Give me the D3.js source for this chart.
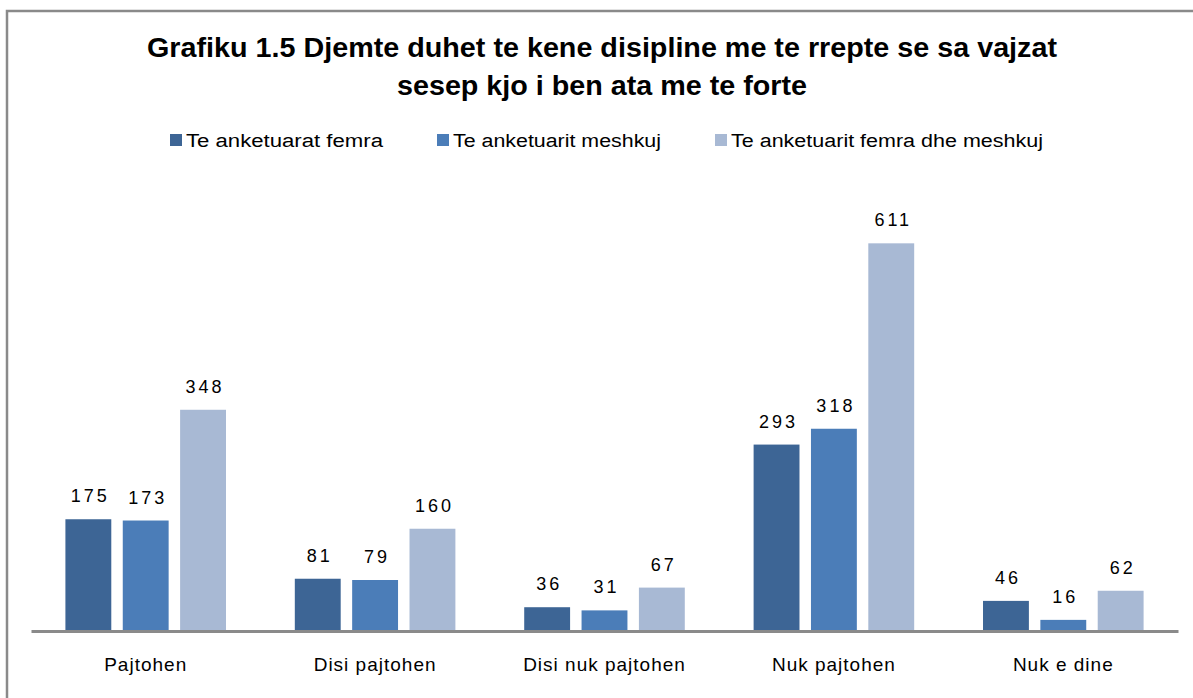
<!DOCTYPE html>
<html>
<head>
<meta charset="utf-8">
<script src="https://cdn.jsdelivr.net/npm/d3@7"></script>
<style>
	body { margin: 0; background: #fff; }
	svg { display: block; }
	text { font-family: "Liberation Sans", Arial, sans-serif; fill: #000; }
	.narrow { font-family: "Liberation Sans Narrow", "Liberation Sans", Arial, sans-serif; }
</style>
</head>
<body>
<div class="chart"></div>
<script>
(function() {

	const categories = ["Pajtohen", "Disi pajtohen", "Disi nuk pajtohen", "Nuk pajtohen", "Nuk e dine"];
	const seriesNames = ["Te anketuarat femra", "Te anketuarit meshkuj", "Te anketuarit femra dhe meshkuj"];
	const femra = [175, 81, 36, 293, 46];
	const meshkuj = [173, 79, 31, 318, 16];
	const teGjithe = [348, 160, 67, 611, 62];
	const titleLines = ["Grafiku 1.5 Djemte duhet te kene disipline me te rrepte se sa vajzat", "sesep kjo i ben ata me te forte"];

	const colors = ["#3d6595", "#4b7db8", "#a8b9d4"];
	const series = [femra, meshkuj, teGjithe];

	const width = 1193,
		height = 698,
		margin = {left: 31, right: 15, top: 187, bottom: 68};

	const svg = d3.select(".chart").append("svg")
		.attr("width", width)
		.attr("height", height);

	// outer frame (runs off the right and bottom edges)
	svg.append("rect")
		.attr("x", 7)
		.attr("y", 11)
		.attr("width", 1250)
		.attr("height", 750)
		.attr("fill", "none")
		.attr("stroke", "#8a8a8a")
		.attr("stroke-width", 2.5);

	// title
	const titleWidths = [910, 410];
	svg.selectAll(".title")
		.data(titleLines)
		.enter().append("text")
		.attr("class", "title narrow")
		.attr("x", 602)
		.attr("y", (d, i) => 57 + i * 38)
		.attr("text-anchor", "middle")
		.attr("textLength", (d, i) => titleWidths[i])
		.attr("lengthAdjust", "spacingAndGlyphs")
		.style("font-size", "27px")
		.style("font-weight", "bold")
		.text(d => d);

	// legend
	const legendX = [170, 437, 715],
		legendW = [197, 208, 312];
	const legend = svg.selectAll(".legend")
		.data(seriesNames)
		.enter().append("g")
		.attr("class", "legend")
		.attr("transform", (d, i) => "translate(" + legendX[i] + ",140)");

	legend.append("rect")
		.attr("x", 0)
		.attr("y", -6)
		.attr("width", 12)
		.attr("height", 12)
		.attr("fill", (d, i) => colors[i]);

	legend.append("text")
		.attr("class", "narrow")
		.attr("x", 16)
		.attr("y", 7)
		.attr("textLength", (d, i) => legendW[i])
		.attr("lengthAdjust", "spacingAndGlyphs")
		.style("font-size", "18px")
		.text(d => d);

	const x = d3.scaleBand()
		.domain(categories)
		.range([margin.left, width - margin.right])
		.padding(0);

	const xs = d3.scaleBand()
		.domain(d3.range(series.length))
		.range([0, x.bandwidth()])
		.paddingInner(0.2)
		.paddingOuter(0.6);

	const y = d3.scaleLinear()
		.domain([0, 700])
		.range([height - margin.bottom, margin.top]);

	const groups = svg.selectAll(".group")
		.data(categories)
		.enter().append("g")
		.attr("class", "group")
		.attr("transform", d => "translate(" + x(d) + ",0)");

	const bars = groups.selectAll(".bar")
		.data((d, ci) => series.map((s, si) => ({si: si, v: s[ci]})))
		.enter();

	bars.append("rect")
		.attr("class", "bar")
		.attr("x", d => xs(d.si))
		.attr("width", xs.bandwidth())
		.attr("y", d => y(d.v))
		.attr("height", d => y(0) - y(d.v))
		.attr("fill", d => colors[d.si]);

	bars.append("text")
		.attr("x", d => xs(d.si) + xs.bandwidth() / 2 + 2)
		.attr("y", d => y(d.v) - 17)
		.attr("text-anchor", "middle")
		.style("font-size", "18px")
		.style("letter-spacing", "3px")
		.text(d => d.v);

	// x axis
	const xAxis = d3.axisBottom(x).tickSize(0).tickPadding(27);
	const ax = svg.append("g")
		.attr("class", "x axis")
		.attr("transform", "translate(0," + (y(0) + 1) + ")")
		.call(xAxis);

	ax.select(".domain")
		.attr("stroke", "#8a8a8a")
		.attr("stroke-width", 3);

	ax.selectAll("text")
		.style("font-size", "19px")
		.style("letter-spacing", "1px")
		.style("font-family", "\"Liberation Sans\", Arial, sans-serif")
		.attr("fill", "#000");

})();
</script>
</body>
</html>
